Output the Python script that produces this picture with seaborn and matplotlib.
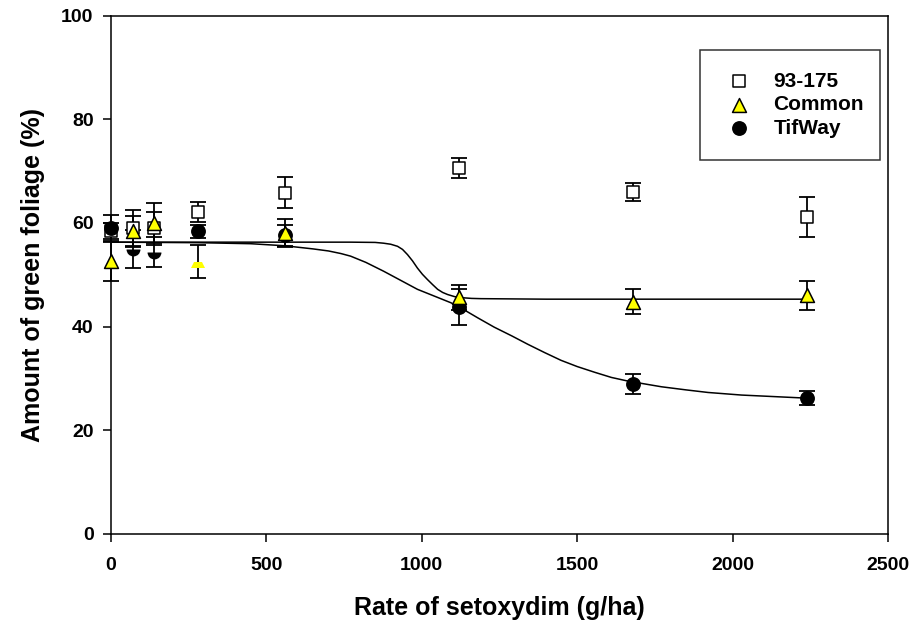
import matplotlib
matplotlib.use("Agg")
import matplotlib.pyplot as plt
import pandas as pd
import seaborn as sns

# Rates of setoxydim (g/ha)
rates = [0, 70, 140, 280, 560, 1120, 1680, 2240]

# Mean green foliage (%) and error bars for each cultivar
green_93175 = [58.5, 59.0, 59.0, 62.1, 65.8, 70.6, 66.0, 61.2]
err_93175 = [1.5, 3.6, 3.2, 1.9, 3.0, 2.0, 1.8, 3.9]
green_common = [52.7, 58.4, 60.0, 52.6, 58.1, 45.7, 44.8, 46.1]
err_common = [3.8, 2.9, 3.8, 3.2, 2.7, 2.4, 2.4, 2.8]
green_tifway = [59.0, 55.0, 54.4, 58.4, 57.6, 43.8, 29.0, 26.2]
err_tifway = [2.6, 3.7, 2.9, 1.3, 2.0, 3.4, 1.9, 1.4]

# Fitted curves
fit_common_x = [0, 280, 560, 771, 850, 877, 900, 922, 938, 954, 970, 986, 1002, 1018, 1035, 1051,
                1067, 1083, 1105, 1126, 1160, 1190, 1400, 1800, 2240]
fit_common_y = [56.3, 56.3, 56.3, 56.3, 56.25, 56.1, 55.9, 55.5, 54.9, 53.9, 52.7, 51.3, 50.1, 49.1, 48.1, 47.2,
                46.6, 46.2, 45.8, 45.6, 45.45, 45.4, 45.3, 45.3, 45.3]
fit_tifway_x = [0, 280, 450, 560, 650, 700, 740, 771, 820, 877, 930, 986, 1040, 1094, 1126, 1180, 1233, 1290,
                1341, 1395, 1448, 1500, 1556, 1610, 1663, 1771, 1850, 1921, 2029, 2135, 2240]
fit_tifway_y = [56.3, 56.2, 56.0, 55.6, 55.0, 54.6, 54.1, 53.6, 52.4, 50.7, 49.0, 47.2, 45.9, 44.6, 43.6, 41.7,
                39.9, 38.2, 36.6, 35.0, 33.5, 32.3, 31.2, 30.2, 29.5, 28.4, 27.8, 27.3, 26.8, 26.5, 26.2]

cultivars = ["93-175", "Common", "TifWay"]
draw_order = ["93-175", "TifWay", "Common"]
means = {"93-175": green_93175, "Common": green_common, "TifWay": green_tifway}
errs = {"93-175": err_93175, "Common": err_common, "TifWay": err_tifway}
colors = {"93-175": "white", "Common": "#ffff00", "TifWay": "black"}
markers = {"93-175": "s", "Common": "^", "TifWay": "o"}
sizes = {"93-175": 80, "Common": 100, "TifWay": 92}
# points that are partly hidden in the original graph
partial = {"Common": [3], "TifWay": [1, 2]}

sns.set_style("white")
plt.rcParams["font.family"] = ["Liberation Sans", "DejaVu Sans"]
plt.rcParams["font.weight"] = "bold"
plt.rcParams["text.color"] = "black"
plt.rcParams["axes.labelcolor"] = "black"
plt.rcParams["xtick.color"] = "black"
plt.rcParams["ytick.color"] = "black"

fig = plt.figure(figsize=(9.14, 6.26), dpi=100)
ax = fig.add_axes([0.1214, 0.1470, 0.8502, 0.828])

# fitted lines
sns.lineplot(x=fit_common_x, y=fit_common_y, color="black", lw=1.1, estimator=None, sort=False, ax=ax)
sns.lineplot(x=fit_tifway_x, y=fit_tifway_y, color="black", lw=1.1, estimator=None, sort=False, ax=ax)

# error bars
for c in cultivars:
    ax.errorbar(rates, means[c], yerr=errs[c], fmt="none", ecolor="black",
                elinewidth=1.3, capsize=5.8, capthick=1.3, zorder=3, clip_on=False)

# markers
rows = []
for c in cultivars:
    for i, (r, m) in enumerate(zip(rates, means[c])):
        if i in partial.get(c, []):
            continue
        rows.append({"rate": r, "green": m, "cultivar": c})
df = pd.DataFrame(rows)

for c in draw_order:
    sub = df[df["cultivar"] == c]
    sns.scatterplot(data=sub, x="rate", y="green", marker=markers[c], color=colors[c],
                    edgecolor="black", linewidth=1.1, s=sizes[c], ax=ax, zorder=4, label=c,
                    clip_on=False)

for c, idx in partial.items():
    for i in idx:
        ax.plot(rates[i], means[c][i], marker=markers[c], ms=10, color=colors[c],
                fillstyle="bottom", markerfacecoloralt="none", mew=0, zorder=4)

ax.set_xlim(0, 2500)
ax.set_ylim(0, 100)
ax.set_xticks([0, 500, 1000, 1500, 2000, 2500])
ax.set_yticks([0, 20, 40, 60, 80, 100])
ax.tick_params(direction="out", length=5.5, width=1.1, labelsize=14,
               bottom=True, left=True, top=False, right=False)
ax.tick_params(axis="x", pad=11)
ax.tick_params(axis="y", pad=7)
for lab in ax.get_xticklabels() + ax.get_yticklabels():
    lab.set_fontweight("bold")
for sp in ax.spines.values():
    sp.set_color("black")
    sp.set_linewidth(1.1)

ax.set_xlabel("Rate of setoxydim (g/ha)", fontsize=18, fontweight="bold", labelpad=16)
ax.set_ylabel("Amount of green foliage (%)", fontsize=18, fontweight="bold", labelpad=12)

handles, labels = ax.get_legend_handles_labels()
order = [labels.index(c) for c in cultivars]
handles = [handles[i] for i in order]
labels = [labels[i] for i in order]
leg = ax.legend(handles, labels, loc="upper left", bbox_to_anchor=(0.758, 0.7254, 0.232, 0.2085),
                mode="expand", frameon=True, fancybox=False, borderpad=1.05, labelspacing=0.22,
                handlelength=1.6, handletextpad=0.88, borderaxespad=0,
                prop={"weight": "bold", "size": 15})
leg.get_frame().set_edgecolor("black")
leg.get_frame().set_linewidth(1.1)

fig.savefig("out.png", dpi=100)
